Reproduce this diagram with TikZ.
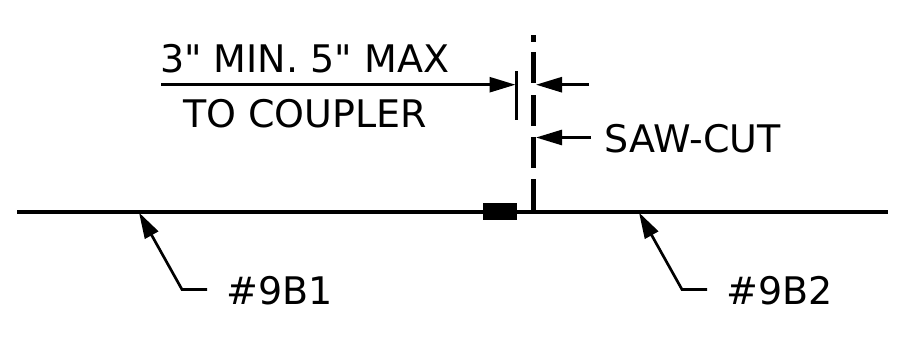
\documentclass[tikz,border=0pt]{standalone}
\usepackage{fontspec}
\newfontfamily\djv{DejaVu Sans}
\usetikzlibrary{arrows.meta}
\tikzset{
  thick line/.style={line width=4pt,black},
  thin line/.style={line width=2.7pt,black},
  head/.style={-{Triangle[length=26pt,width=15pt]}},
  lbl/.style={font=\djv\fontsize{38}{38}\selectfont,inner sep=0pt,anchor=base west,text=black},
}
\begin{document}
\begin{tikzpicture}[x=1pt,y=-1pt]
\useasboundingbox (0,0) rectangle (914,338);
% main rail
\coordinate (railL) at (17,212);
\coordinate (railR) at (888,212);
\draw[thick line] (railL) -- (railR);
\node[fill=black,minimum width=34pt,minimum height=17.5pt,inner sep=0pt] (bond) at (500,211.5) {};
% saw-cut dashes
\foreach \n/\a/\b in {a/35/42,b/52/83,c/95/126,d/137/168,e/179/212}{
  \coordinate (cut\n1) at (533.7,\a);
  \coordinate (cut\n2) at (533.7,\b);
  \draw[line width=4.6pt] (cut\n1) -- (cut\n2);
}
% dimension
\coordinate (dimL) at (161,84.7);
\coordinate (tickT) at (516.7,71);
\coordinate (tickB) at (516.7,120);
\coordinate (tickM) at (515.5,84.7);
\coordinate (dimR) at (589,84.7);
\coordinate (cutM) at (536,84.7);
\draw[thin line] (tickT) -- (tickB);
\draw[thin line,head] (dimL) -- (tickM);
\draw[thin line,head] (dimR) -- (cutM);
% saw-cut leader
\coordinate (sawS) at (591,137.5);
\coordinate (sawT) at (536,137.5);
\draw[thin line,head] (sawS) -- (sawT);
% leaders to rails
\coordinate (l1a) at (207,289.5);
\coordinate (l1b) at (182,289.5);
\coordinate (l1c) at (139,212.5);
\draw[thin line,head] (l1a) -- (l1b) -- (l1c);
\coordinate (l2a) at (707,289.5);
\coordinate (l2b) at (682,289.5);
\coordinate (l2c) at (639,212.5);
\draw[thin line,head] (l2a) -- (l2b) -- (l2c);
% labels
\node[lbl] (t1) at (160,72) {3" MIN. 5" MAX};
\node[lbl] (t2) at (183,127) {TO COUPLER};
\node[lbl] (t3) at (604.5,152) {SAW-CUT};
\node[lbl] (t4) at (226,304) {\#9B1};
\node[lbl] (t5) at (726,304) {\#9B2};
\end{tikzpicture}
\end{document}
